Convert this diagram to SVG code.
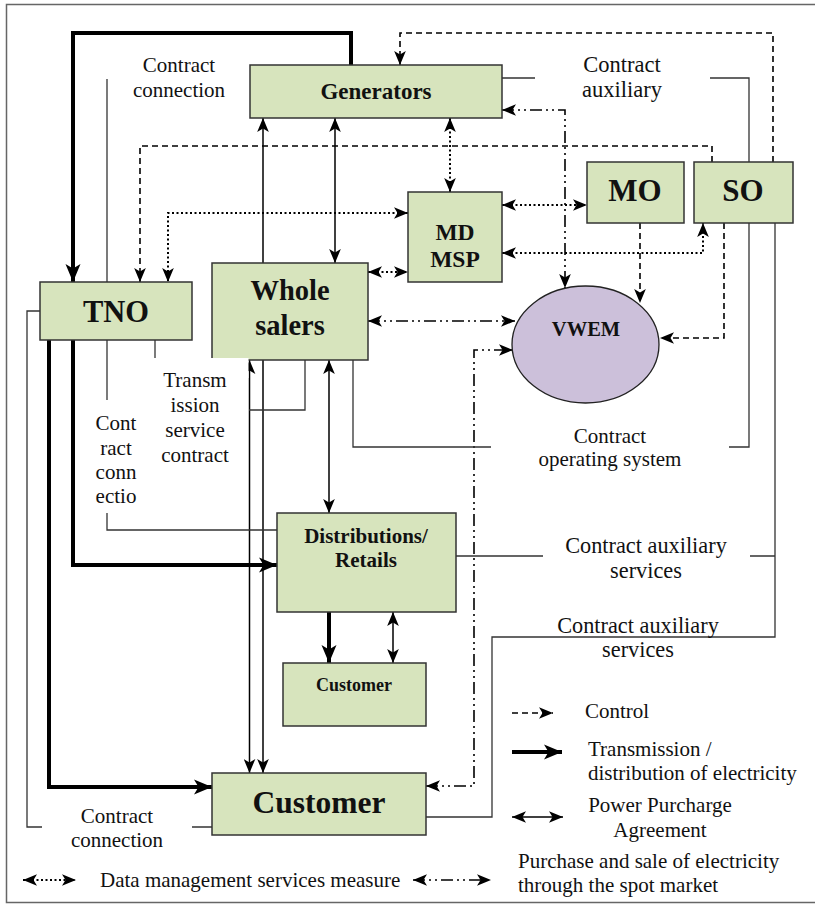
<svg xmlns="http://www.w3.org/2000/svg" width="815" height="906" viewBox="0 0 815 906">
<style>
text{font-family:"Liberation Serif","Times New Roman",serif;fill:#111}
.n{fill:#d7e4bd;stroke:#333;stroke-width:1.5}
.b{font-weight:bold;text-anchor:middle}
.l{font-size:21px}
.c{text-anchor:middle}
.th{fill:none;stroke:#000;stroke-width:1.5}
.tk{fill:none;stroke:#000;stroke-width:4}
.ds{fill:none;stroke:#000;stroke-width:1.6;stroke-dasharray:6 4}
.dt{fill:none;stroke:#000;stroke-width:2;stroke-dasharray:2 2.5}
.dd{fill:none;stroke:#000;stroke-width:1.6;stroke-dasharray:12 4 2 4 2 4}
.g{fill:none;stroke:#333;stroke-width:1.3}
.ae{marker-end:url(#a)}
.ab{marker-start:url(#a);marker-end:url(#a)}
.ke{marker-end:url(#k)}
</style>
<defs>
<marker id="a" viewBox="0 0 12 10" refX="12" refY="5" markerWidth="14" markerHeight="12" markerUnits="userSpaceOnUse" orient="auto-start-reverse"><path d="M0,0 L12,5 L0,10 L3,5 z" fill="#000"/></marker>
<marker id="k" viewBox="0 0 12 10" refX="12" refY="5" markerWidth="18" markerHeight="16" markerUnits="userSpaceOnUse" orient="auto-start-reverse"><path d="M0,0 L12,5 L0,10 L3,5 z" fill="#000"/></marker>
</defs>
<rect x="6.5" y="4.5" width="820" height="898" fill="#fff" stroke="#666" stroke-width="1.5"/>

<g id="connectors">
<path class="tk ke" d="M351,65 V33 H73 V282"/>
<path class="tk ke" d="M49,340 V787 H212"/>
<path class="tk ke" d="M73,340 V565 H277"/>
<path class="tk ke" d="M329,612 V663"/>
<path class="th ae" d="M263,263 V118"/>
<path class="th ab" d="M335,118 V263"/>
<path class="th ab" d="M329,360 V513"/>
<path class="th ab" d="M393,612 V663"/>
<path class="th ab" d="M249.5,360 V773"/>
<path class="th ae" d="M263,360 V773"/>
<path class="ds ae" d="M773,162 V33 H400 V65"/>
<path class="ds ae" d="M712,162 V146 H140 V282"/>
<path class="ds ae" d="M640,223 V303"/>
<path class="ds ae" d="M724,223 V338 H660"/>
<path class="dt ab" d="M408,213 H168 V282"/>
<path class="dt ab" d="M450,118 V192"/>
<path class="dt ab" d="M368,272 H408"/>
<path class="dt ab" d="M502,205 H587"/>
<path class="dt ab" d="M502,253 H703 V223"/>
<path class="dd ab" d="M502,110 H565 V288"/>
<path class="dd ab" d="M368,321 H515"/>
<path class="dd ab" d="M426,786 H474 V350 H513"/>
<path class="g" d="M107,79 V282"/>
<path class="g" d="M107,340 V400"/>
<path class="g" d="M107,513 V530 H277"/>
<path class="g" d="M155,340 V358"/>
<path class="g" d="M305,360 V410 H249"/>
<path class="g" d="M502,78 H535 M710,78 H749 V162"/>
<path class="g" d="M749,223 V447 H729 M353,360 V447 H491"/>
<path class="g" d="M456,556 H543 M750,556 H775"/>
<path class="g" d="M775,223 V637 H492 V817 H426"/>
<path class="g" d="M40,311 H27 V827 H42 M192,827 H212"/>
</g>

<g id="generators"><rect class="n" x="250" y="65" width="252" height="53"/><text class="b" x="376" y="99" font-size="23">Generators</text></g>
<g id="mdmsp"><rect class="n" x="408" y="192" width="94" height="90"/><text class="b" x="455" y="240" font-size="23.5">MD</text><text class="b" x="455" y="267" font-size="23.5">MSP</text></g>
<g id="mo"><rect class="n" x="587" y="162" width="97" height="61"/><text class="b" x="635" y="201" font-size="31">MO</text></g>
<g id="so"><rect class="n" x="694" y="162" width="99" height="61"/><text class="b" x="743" y="201" font-size="31">SO</text></g>
<g id="tno"><rect class="n" x="40" y="282" width="152" height="58"/><text class="b" x="116" y="322" font-size="30.5">TNO</text></g>
<g id="wholesalers"><rect class="n" x="212" y="263" width="156" height="97"/><text class="b" x="290" y="300" font-size="28.5">Whole</text><text class="b" x="290" y="335" font-size="28.5">salers</text></g>
<g id="vwem"><ellipse cx="585.5" cy="344.5" rx="73.5" ry="58.5" fill="#ccc0da" stroke="#222" stroke-width="1.3"/><text class="b" x="586" y="336" font-size="20.5">VWEM</text></g>
<g id="distributions"><rect class="n" x="277" y="513" width="179" height="99"/><text class="b" x="366" y="543" font-size="21">Distributions/</text><text class="b" x="366" y="567" font-size="21">Retails</text></g>
<g id="customer-small"><rect class="n" x="283" y="663" width="143" height="63"/><text class="b" x="354" y="691" font-size="18">Customer</text></g>
<g id="customer"><rect class="n" x="212" y="773" width="214" height="62"/><text class="b" x="319" y="813" font-size="31.5">Customer</text></g>

<rect x="200" y="358" width="48.5" height="20" fill="#fff"/>

<g id="labels" class="l">
<text class="c" x="179" y="72">Contract</text><text class="c" x="179" y="97">connection</text>
<text class="c" x="622" y="72" font-size="22.5">Contract</text><text class="c" x="622" y="97" font-size="22.5">auxiliary</text>
<text class="c" x="195" y="387">Transm</text><text class="c" x="195" y="412">ission</text><text class="c" x="195" y="437">service</text><text class="c" x="195" y="462">contract</text>
<text class="c" x="116" y="430">Cont</text><text class="c" x="116" y="455">ract</text><text class="c" x="116" y="479">conn</text><text class="c" x="116" y="503">ectio</text>
<text class="c" x="610" y="443">Contract</text><text class="c" x="610" y="466">operating system</text>
<text class="c" x="646" y="553" font-size="22.3">Contract auxiliary</text><text class="c" x="646" y="578" font-size="22.3">services</text>
<text class="c" x="638" y="633" font-size="22.3">Contract auxiliary</text><text class="c" x="638" y="657" font-size="22.3">services</text>
<text class="c" x="117" y="823">Contract</text><text class="c" x="117" y="847">connection</text>
</g>

<g id="legend">
<path class="ds ae" d="M512,713 H553"/>
<text class="l" x="585" y="718">Control</text>
<path class="tk ke" d="M512,752 H562"/>
<text class="l" x="588" y="756">Transmission /</text><text class="l" x="588" y="780">distribution of electricity</text>
<path class="th ab" d="M512,817 H563"/>
<text class="l c" x="660" y="812">Power Purcharge</text><text class="l c" x="660" y="837">Agreement</text>
<path class="dd ab" d="M413,880 H491"/>
<text class="l" x="518" y="868">Purchase and sale of electricity</text><text class="l" x="518" y="892">through the spot market</text>
<path class="dt ab" d="M23,880 H76"/>
<text class="l" x="100" y="887" font-size="20.6">Data management services measure</text>
</g>
</svg>
